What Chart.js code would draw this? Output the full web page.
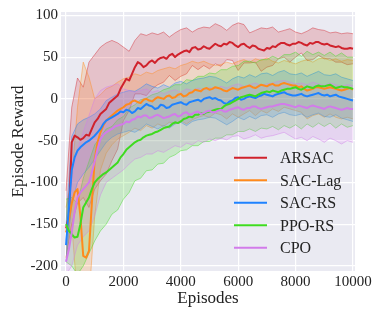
<!DOCTYPE html>
<html><head><meta charset="utf-8">
<script src="https://cdn.jsdelivr.net/npm/chart.js@4/dist/chart.umd.min.js"></script>
<style>html,body{margin:0;padding:0;background:#fff;}canvas{display:block;}</style>
</head><body>
<canvas id="c" width="382" height="318"></canvas>
<script>
// x positions of the mean curves (every 100 episodes) and of the band edges (every 200 episodes)
const episodes = [0,100,200,300,400,500,600,700,800,900,1000,1100,1200,1300,1400,1500,1600,1700,1800,1900,2000,2100,2200,2300,2400,2500,2600,2700,2800,2900,3000,3100,3200,3300,3400,3500,3600,3700,3800,3900,4000,4100,4200,4300,4400,4500,4600,4700,4800,4900,5000,5100,5200,5300,5400,5500,5600,5700,5800,5900,6000,6100,6200,6300,6400,6500,6600,6700,6800,6900,7000,7100,7200,7300,7400,7500,7600,7700,7800,7900,8000,8100,8200,8300,8400,8500,8600,8700,8800,8900,9000,9100,9200,9300,9400,9500,9600,9700,9800,9900,10000];
const bandEpisodes = [0,200,400,600,800,1000,1200,1400,1600,1800,2000,2200,2400,2600,2800,3000,3200,3400,3600,3800,4000,4200,4400,4600,4800,5000,5200,5400,5600,5800,6000,6200,6400,6600,6800,7000,7200,7400,7600,7800,8000,8200,8400,8600,8800,9000,9200,9400,9600,9800,10000];
const algorithms = ['ARSAC','SAC-Lag','SAC-RS','PPO-RS','CPO'];
const xTicks = [0,2000,4000,6000,8000,10000];
const yTicks = [-200,-150,-100,-50,0,50,100];

const arsacMean = [-155,-140,-52,-44,-46,-49,-47,-43,-44,-36,
  -28,-24,-18,-15,-12,-5,-2,1,4,12,
  18,24,22,30,38,44,42,38,40,44,
  46,43,47,49,50,48,52,54,50,53,
  55,57,58,56,61,62,59,60,63,61,
  60,63,66,64,63,66,65,68,67,64,
  62,65,66,63,61,64,63,60,59,58,
  61,60,63,62,65,67,67,65,64,66,
  66,68,67,65,64,67,66,68,68,66,
  65,66,64,63,62,63,61,60,60,61,
  60];
const arsacUpper = [-110,-10,25,14,44,53,62,67,70,67,62,57,70,78,76,79,77,80,74,79,83,85,80,84,86,85,90,87,82,88,91,89,79,82,85,84,86,80,82,84,80,78,81,85,83,82,79,80,78,79,78];
const arsacLower = [-190,-150,-125,-118,-130,-108,-98,-90,-74,-60,-26,-14,6,6,4,12,17,20,28,22,27,30,40,35,40,36,42,39,47,46,34,43,43,44,33,38,40,48,50,44,50,55,46,47,52,48,48,44,44,41,42];

const sacLagMean = [-160,-145,-125,-112,-108,-140,-188,-190,-182,-125,
  -72,-52,-40,-32,-26,-23,-20,-17,-14,-12,
  -10,-7,-6,-3,-2,-4,-5,-1,0,-2,
  -3,0,2,1,0,3,4,1,2,5,
  6,3,4,7,8,11,10,9,12,13,
  11,12,14,13,12,10,9,11,13,12,
  11,13,14,15,16,14,13,15,17,16,
  15,17,18,16,16,18,19,18,17,16,
  16,14,15,12,10,11,12,14,14,13,
  12,13,14,13,12,11,10,11,12,13,
  11];
const sacLagUpper = [-130,-95,-10,44,26,0,5,12,15,20,24,26,30,28,32,30,34,36,38,36,40,42,45,43,45,42,40,41,44,42,45,47,44,48,46,49,45,43,46,44,42,45,47,44,48,49,46,48,45,47,46];
const sacLagLower = [-190,-150,-240,-240,-240,-140,-85,-65,-55,-48,-44,-40,-35,-38,-32,-35,-30,-33,-28,-30,-26,-30,-25,-22,-20,-22,-17,-19,-24,-18,-22,-18,-14,-20,-14,-17,-12,-15,-10,-12,-14,-16,-24,-20,-18,-22,-18,-22,-24,-22,-24];

const sacRsMean = [-175,-130,-85,-70,-62,-58,-55,-52,-50,-47,
  -44,-40,-36,-30,-26,-24,-22,-20,-18,-15,
  -16,-13,-14,-17,-15,-11,-12,-9,-6,-8,
  -9,-12,-11,-7,-8,-11,-10,-7,-6,-5,
  -4,-6,-7,-4,-3,-2,-1,-3,0,1,
  2,0,1,-1,-2,-5,-6,-3,-2,1,
  2,-1,0,2,3,2,1,3,4,6,
  5,4,3,5,6,7,8,6,5,4,
  4,5,6,4,3,4,5,6,7,5,
  4,5,3,4,5,3,2,1,0,-1,
  -2];
const sacRsUpper = [-150,-45,-30,-25,-22,-18,-12,-2,2,6,8,10,9,13,18,15,13,17,14,19,21,18,22,24,25,27,26,23,19,24,27,25,29,26,30,31,28,32,34,30,29,31,27,30,33,29,28,30,26,24,22];
const sacRsLower = [-195,-125,-100,-90,-82,-72,-62,-52,-46,-42,-40,-38,-40,-36,-30,-33,-36,-32,-35,-30,-28,-32,-27,-25,-24,-22,-23,-27,-31,-27,-22,-25,-21,-24,-20,-19,-22,-18,-16,-19,-20,-18,-22,-19,-17,-21,-22,-19,-23,-25,-27];

const ppoRsMean = [-150,-158,-162,-166,-165,-150,-130,-124,-118,-108,
  -100,-96,-93,-90,-88,-85,-82,-79,-76,-70,
  -66,-61,-58,-55,-52,-50,-49,-46,-44,-43,
  -42,-40,-39,-37,-35,-34,-33,-30,-28,-29,
  -27,-24,-23,-21,-22,-19,-19,-17,-18,-16,
  -15,-14,-13,-12,-12,-9,-7,-6,-4,-2,
  0,2,3,4,5,4,3,5,7,8,
  9,8,10,9,8,10,11,12,12,13,
  14,12,11,13,15,14,13,15,16,15,
  15,16,17,15,13,14,15,14,14,13,
  12];
const ppoRsUpper = [-120,-118,-125,-95,-75,-55,-46,-36,-33,-25,-21,-11,-7,-1,1,5,7,11,13,17,17,23,22,27,27,31,30,35,35,39,40,45,45,43,47,47,51,48,53,53,56,51,57,53,56,52,56,51,55,50,50];
const ppoRsLower = [-195,-200,-210,-200,-185,-170,-158,-150,-138,-133,-120,-112,-98,-95,-86,-85,-78,-77,-70,-67,-62,-61,-56,-56,-51,-51,-47,-47,-43,-43,-39,-39,-36,-39,-35,-36,-33,-37,-32,-35,-31,-36,-30,-34,-29,-33,-29,-35,-30,-34,-32];

const cpoMean = [-195,-180,-160,-135,-118,-112,-108,-104,-100,-88,
  -75,-60,-48,-43,-40,-38,-36,-33,-32,-31,
  -30,-27,-28,-25,-24,-21,-22,-20,-20,-23,
  -22,-20,-19,-21,-23,-22,-21,-19,-18,-21,
  -20,-17,-16,-19,-18,-16,-15,-18,-17,-15,
  -14,-16,-16,-14,-13,-15,-15,-13,-12,-11,
  -10,-12,-13,-11,-11,-9,-9,-11,-12,-11,
  -10,-9,-9,-8,-7,-6,-6,-7,-8,-9,
  -10,-8,-9,-10,-11,-9,-8,-9,-10,-11,
  -12,-10,-9,-10,-11,-12,-13,-12,-11,-12,
  -12];
const cpoUpper = [-170,-100,-60,-40,-20,0,10,14,16,18,12,10,8,10,12,8,10,6,9,11,8,12,10,13,11,14,12,15,13,16,18,15,17,19,16,18,19,21,22,20,18,19,17,20,18,16,19,17,15,17,16];
const cpoLower = [-210,-200,-175,-165,-158,-140,-115,-100,-95,-90,-85,-78,-72,-70,-66,-66,-62,-64,-60,-56,-58,-53,-55,-50,-52,-48,-50,-47,-49,-45,-44,-48,-46,-43,-47,-45,-44,-42,-40,-44,-48,-46,-50,-45,-48,-52,-47,-50,-54,-50,-52];

const colors = ['#D0222C','#FF8A1C','#1E82FF','#3EDB1F','#D27BEA'];
const FONT = 'Liberation Serif';
const TXT = '#222222';

const series = [
  {mean: arsacMean, upper: arsacUpper, lower: arsacLower},
  {mean: sacLagMean, upper: sacLagUpper, lower: sacLagLower},
  {mean: sacRsMean, upper: sacRsUpper, lower: sacRsLower},
  {mean: ppoRsMean, upper: ppoRsUpper, lower: ppoRsLower},
  {mean: cpoMean, upper: cpoUpper, lower: cpoLower}
];

function rgba(hex, a){
  const n = parseInt(hex.slice(1),16);
  return `rgba(${(n>>16)&255},${(n>>8)&255},${n&255},${a})`;
}
const toPts = (xs, arr) => arr.map((y,i)=>({x:xs[i], y}));

const datasets = [];
series.forEach((s,k)=>{
  const c = colors[k];
  datasets.push({label: algorithms[k]+' upper', data: toPts(bandEpisodes, s.upper), borderColor: rgba(c,0.55), borderWidth: 0.8,
    pointRadius: 0, fill: false, order: 20-k, tension: 0});
  datasets.push({label: algorithms[k]+' lower', data: toPts(bandEpisodes, s.lower), borderColor: rgba(c,0.55), borderWidth: 0.8,
    pointRadius: 0, fill: '-1', backgroundColor: rgba(c,0.2), order: 20-k, tension: 0});
});
series.forEach((s,k)=>{
  datasets.push({label: algorithms[k], data: toPts(episodes, s.mean), borderColor: colors[k], borderWidth: 2,
    pointRadius: 0, fill: false, order: 9-k, tension: 0});
});

const bgPlugin = {
  id: 'bg',
  beforeDraw(chart){
    const {ctx, chartArea:{left,top,width,height}} = chart;
    ctx.save(); ctx.fillStyle = '#EAEAF2'; ctx.fillRect(left,top,width,height); ctx.restore();
  }
};
const legendPlugin = {
  id: 'lg',
  afterDraw(chart){
    const ctx = chart.ctx, ca = chart.chartArea;
    ctx.save();
    ctx.font = `16px "${FONT}"`;
    ctx.textBaseline = 'middle';
    ctx.textAlign = 'left';
    algorithms.forEach((name,i)=>{
      const y = ca.bottom - 113.3 + i*22.5;
      ctx.strokeStyle = colors[i]; ctx.lineWidth = 2;
      ctx.beginPath(); ctx.moveTo(ca.right-121, y); ctx.lineTo(ca.right-88, y); ctx.stroke();
      ctx.fillStyle = TXT;
      ctx.fillText(name, ca.right-75, y+1.4);
    });
    ctx.restore();
  }
};

new Chart(document.getElementById('c'), {
  type: 'line',
  data: {datasets},
  plugins: [bgPlugin, legendPlugin],
  options: {
    responsive: false,
    animation: false,
    layout: {padding: {top: 11, right: 27, left: 0, bottom: 0}},
    plugins: {legend: {display: false}, tooltip: {enabled: false}},
    elements: {line: {borderCapStyle: 'butt', borderJoinStyle: 'round'}},
    scales: {
      x: {
        type: 'linear', min: -175, max: 10070,
        afterBuildTicks: s => { s.ticks = xTicks.map(v=>({value:v})); },
        afterFit: s => { s.height = 47; },
        grid: {color: '#ffffff', lineWidth: 1.2, drawTicks: false},
        border: {display: false},
        ticks: {autoSkip: false, maxRotation: 0, padding: 2, color: TXT, font: {family: FONT, size: 15}, callback: v => String(v)},
        title: {display: true, text: 'Episodes', color: TXT, font: {family: FONT, size: 17}, padding: {top: 0, bottom: 9}}
      },
      y: {
        type: 'linear', min: -206, max: 104,
        afterBuildTicks: s => { s.ticks = yTicks.map(v=>({value:v})); },
        afterFit: s => { s.width = 61; },
        grid: {color: '#ffffff', lineWidth: 1.2, drawTicks: false},
        border: {display: false},
        ticks: {autoSkip: false, padding: 3, color: TXT, font: {family: FONT, size: 15}, callback: v => String(v)},
        title: {display: true, text: 'Episode Reward', color: TXT, font: {family: FONT, size: 17}, padding: {top: 8, bottom: 0}}
      }
    }
  }
});
</script>
</body></html>
